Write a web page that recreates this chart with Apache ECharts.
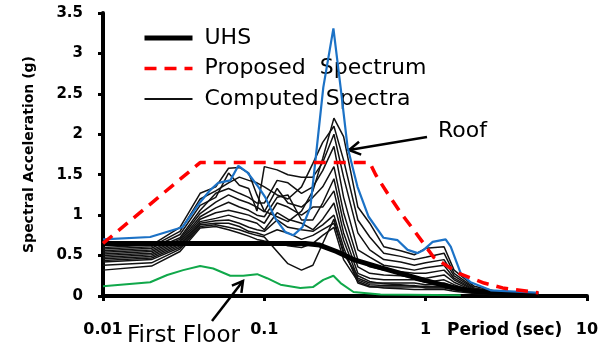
<!DOCTYPE html>
<html><head><meta charset="utf-8">
<script src="https://cdn.jsdelivr.net/npm/echarts@6/dist/echarts.min.js"></script>
<style>html,body{margin:0;padding:0;background:#fff}#c{width:612px;height:347px}</style>
</head><body><div id="c"></div>
<script>
// ---- tick labels ----
const xTickLabels = ['0.01', '0.1', '1', '10'];
const yTickLabels = ['0', '0.5', '1', '1.5', '2', '2.5', '3', '3.5'];

// ---- UHS ----
const uhsPeriod = [0.01, 0.18, 0.22, 0.28, 0.357, 0.525, 0.70, 1.0, 1.5, 2.0, 3.0, 5.0];
const uhsSa     = [0.65, 0.65, 0.63, 0.55, 0.45, 0.35, 0.28, 0.19, 0.10, 0.06, 0.03, 0.02];

// ---- Proposed spectrum ----
const proposedPeriod = [0.01, 0.04, 0.45, 0.49, 0.58, 0.70, 0.87, 1.12, 1.39, 1.65, 2.3, 3.0, 5.0];
const proposedSa     = [0.65, 1.65, 1.65, 1.50, 1.27, 1.03, 0.78, 0.48, 0.36, 0.27, 0.16, 0.10, 0.04];

// ---- Roof spectrum (blue) ----
const roofPeriod = [0.01, 0.0196, 0.031, 0.040, 0.0462, 0.0518, 0.0615, 0.069, 0.0784, 0.0918, 0.1014, 0.117, 0.135, 0.151, 0.172, 0.193, 0.232, 0.268, 0.297, 0.328, 0.378, 0.443, 0.548, 0.67, 0.773, 0.892, 0.972, 1.105, 1.33, 1.43, 1.65, 1.90, 2.53, 5.0];
const roofSa     = [0.70, 0.73, 0.85, 1.16, 1.31, 1.40, 1.43, 1.61, 1.53, 1.35, 1.22, 0.96, 0.79, 0.75, 0.85, 1.10, 2.58, 3.31, 2.58, 1.84, 1.35, 0.98, 0.72, 0.69, 0.57, 0.53, 0.57, 0.67, 0.70, 0.61, 0.28, 0.17, 0.07, 0.04];

// ---- First floor spectrum (green) ----
const floorPeriod = [0.01, 0.0196, 0.025, 0.0314, 0.040, 0.0482, 0.0615, 0.074, 0.0903, 0.104, 0.126, 0.167, 0.20, 0.232, 0.268, 0.297, 0.357, 0.525, 1.65];
const floorSa     = [0.12, 0.17, 0.26, 0.32, 0.37, 0.34, 0.25, 0.25, 0.27, 0.22, 0.14, 0.10, 0.11, 0.20, 0.25, 0.16, 0.05, 0.02, 0.01];

// ---- Computed spectra (thin black) ----
const computedPeriod = [0.01, 0.02, 0.03, 0.04, 0.05, 0.06, 0.07, 0.08, 0.09, 0.10, 0.12, 0.14, 0.17, 0.20, 0.23, 0.27, 0.31, 0.38, 0.45, 0.55, 0.70, 0.85, 1.0, 1.3, 1.5, 2.0, 3.0, 5.0];
const computed1  = [0.60,0.63,0.85,1.27,1.35,1.58,1.59,1.52,1.25,1.05,0.98,0.92,1.05,1.30,1.70,2.20,1.97,1.10,0.90,0.61,0.56,0.51,0.59,0.61,0.32,0.12,0.04,0.02];
const computed2  = [0.58,0.61,0.80,1.20,1.30,1.40,1.47,1.43,1.40,1.35,1.25,1.20,1.35,1.64,1.90,2.10,1.68,0.94,0.73,0.53,0.49,0.45,0.48,0.53,0.28,0.10,0.04,0.02];
const computed3  = [0.56,0.59,0.76,1.12,1.22,1.52,1.37,1.33,1.05,1.60,1.56,1.50,1.47,1.47,1.65,2.00,1.47,0.78,0.57,0.45,0.42,0.38,0.41,0.45,0.25,0.09,0.03,0.01];
const computed4  = [0.54,0.57,0.72,1.06,1.27,1.33,1.27,1.22,1.15,1.15,1.43,1.40,1.27,1.35,1.55,1.85,1.22,0.57,0.48,0.38,0.35,0.32,0.35,0.38,0.22,0.08,0.03,0.01];
const computed5  = [0.52,0.55,0.70,1.02,1.16,1.25,1.19,1.15,1.10,1.04,1.33,1.15,1.10,1.22,1.35,1.60,1.03,0.45,0.36,0.32,0.30,0.28,0.28,0.32,0.20,0.07,0.03,0.01];
const computed6  = [0.50,0.53,0.68,0.98,1.09,1.16,1.10,1.06,1.00,0.98,1.22,1.25,0.94,0.94,1.15,1.45,0.90,0.36,0.28,0.26,0.25,0.23,0.22,0.26,0.17,0.06,0.02,0.01];
const computed7  = [0.48,0.51,0.66,0.95,1.03,1.06,1.03,1.00,0.95,0.90,1.15,1.10,1.00,1.10,1.10,1.30,0.78,0.28,0.22,0.20,0.20,0.20,0.17,0.20,0.14,0.05,0.02,0.01];
const computed8  = [0.46,0.49,0.64,0.92,0.96,1.00,0.96,0.93,0.90,0.82,1.03,0.95,0.90,0.82,0.95,1.15,0.69,0.22,0.16,0.16,0.16,0.16,0.14,0.16,0.12,0.05,0.02,0.01];
const computed9  = [0.44,0.47,0.62,0.90,0.93,0.94,0.90,0.85,0.82,0.80,0.94,0.85,0.82,0.80,0.88,1.00,0.60,0.16,0.11,0.11,0.11,0.11,0.11,0.11,0.09,0.04,0.02,0.01];
const computed10 = [0.42,0.45,0.60,0.88,0.90,0.90,0.86,0.80,0.78,0.75,0.82,0.78,0.70,0.75,0.82,0.90,0.55,0.20,0.14,0.13,0.13,0.13,0.10,0.10,0.08,0.04,0.02,0.01];
const computed11 = [0.38,0.41,0.58,0.86,0.88,0.85,0.82,0.78,0.75,0.73,0.55,0.40,0.32,0.38,0.65,0.95,0.52,0.25,0.18,0.15,0.14,0.12,0.12,0.12,0.09,0.04,0.02,0.01];
const computed12 = [0.32,0.37,0.55,0.84,0.86,0.82,0.78,0.74,0.70,0.68,0.66,0.62,0.60,0.65,0.75,0.85,0.45,0.18,0.12,0.10,0.09,0.08,0.08,0.08,0.06,0.03,0.01,0.01];

const computedList = [computed1, computed2, computed3, computed4, computed5, computed6,
  computed7, computed8, computed9, computed10, computed11, computed12];

const zip = (xs, ys) => xs.map((x, i) => [x, ys[i]]);
const FONT = 'DejaVu Sans';

const series = [];
computedList.forEach(arr => {
  series.push({
    name: 'Computed Spectra', type: 'line', symbol: 'none', smooth: false,
    data: zip(computedPeriod, arr),
    lineStyle: { color: '#111', width: 1.5 }, itemStyle: { color: '#111' },
    z: 2, silent: true
  });
});
series.push({
  name: 'UHS', type: 'line', symbol: 'none', data: zip(uhsPeriod, uhsSa),
  lineStyle: { color: '#000', width: 5 }, itemStyle: { color: '#000' }, z: 3
});
series.push({
  name: 'First Floor', type: 'line', symbol: 'none', data: zip(floorPeriod, floorSa),
  lineStyle: { color: '#10A84A', width: 2 }, itemStyle: { color: '#10A84A' }, z: 4
});
series.push({
  name: 'Roof', type: 'line', symbol: 'none', data: zip(roofPeriod, roofSa),
  lineStyle: { color: '#1C72C6', width: 2.2 }, itemStyle: { color: '#1C72C6' }, z: 5
});
series.push({
  name: 'Proposed  Spectrum', type: 'line', symbol: 'none', data: zip(proposedPeriod, proposedSa),
  lineStyle: { color: '#FF0000', width: 3.5, type: [12, 8] }, itemStyle: { color: '#FF0000' }, z: 6
});

function arrow(tail, tip, len, ang) {
  const dx = tip[0] - tail[0], dy = tip[1] - tail[1];
  const L = Math.hypot(dx, dy), ux = dx / L, uy = dy / L;
  const rot = (a) => [ux * Math.cos(a) - uy * Math.sin(a), ux * Math.sin(a) + uy * Math.cos(a)];
  const r1 = rot(ang), r2 = rot(-ang);
  return [
    { type: 'line', shape: { x1: tail[0], y1: tail[1], x2: tip[0], y2: tip[1] }, style: { stroke: '#000', lineWidth: 2.5 } },
    { type: 'polyline', shape: { points: [[tip[0] - len * r1[0], tip[1] - len * r1[1]], tip, [tip[0] - len * r2[0], tip[1] - len * r2[1]]] },
      style: { stroke: '#000', lineWidth: 2.5, fill: null } }
  ];
}

const option = {
  animation: false,
  backgroundColor: '#fff',
  grid: { left: 103, right: 25, top: 13, bottom: 51, containLabel: false },
  legend: {
    orient: 'vertical', left: 137, top: 22, itemWidth: 48, itemHeight: 14, itemGap: 8.5,
    data: [
      { name: 'UHS', lineStyle: { width: 5 } },
      { name: 'Proposed  Spectrum', lineStyle: { width: 3.5 } },
      { name: 'Computed Spectra', lineStyle: { width: 2 } }
    ],
    itemStyle: { color: 'rgba(0,0,0,0)', borderWidth: 0, opacity: 0 },
    textStyle: { fontFamily: FONT, fontSize: 22, color: '#000', lineHeight: 22, padding: [0, 0, 0, 7] },
    selectedMode: false
  },
  xAxis: {
    type: 'log', logBase: 10, min: 0.01, max: 10,
    axisLine: { onZero: false, lineStyle: { color: '#000', width: 4 } },
    axisTick: { show: true, inside: false, length: 5, lineStyle: { color: '#000', width: 3 } },
    minorTick: { show: false }, splitLine: { show: false },
    axisLabel: {
      margin: 26, fontFamily: FONT, fontSize: 16, fontWeight: 'bold', color: '#000',
      formatter: (v) => {
        const k = xTickLabels.find(s => Math.abs(Math.log10(Number(s)) - Math.log10(v)) < 1e-6);
        return k || '';
      }
    }
  },
  yAxis: {
    type: 'value', min: 0, max: 3.5, interval: 0.5,
    name: 'Spectral Acceleration (g)', nameLocation: 'middle', nameGap: 67, nameRotate: 90,
    nameTextStyle: { fontFamily: FONT, fontSize: 14, fontWeight: 'bold', color: '#000' },
    axisLine: { show: true, lineStyle: { color: '#000', width: 4 } },
    axisTick: { show: true, inside: false, length: 5, lineStyle: { color: '#000', width: 3 } },
    splitLine: { show: false },
    axisLabel: {
      margin: 20, fontFamily: FONT, fontSize: 15, fontWeight: 'bold', color: '#000',
      formatter: (v) => yTickLabels[Math.round(v / 0.5)]
    }
  },
  graphic: [
    { type: 'text', left: 447, top: 322, style: { text: 'Period (sec)', fontFamily: FONT, fontSize: 17, fontWeight: 'bold', fill: '#000' } },
    { type: 'text', left: 438, top: 120, style: { text: 'Roof', fontFamily: FONT, fontSize: 22, fill: '#000' } },
    { type: 'text', left: 127, top: 325, style: { text: 'First Floor', fontFamily: FONT, fontSize: 23, fill: '#000' } },
    ...arrow([427, 137], [349, 150], 13, Math.PI / 6),
    ...arrow([212, 321], [243, 281], 12, Math.PI / 6)
  ],
  series
};

const chart = echarts.init(document.getElementById('c'), null, { renderer: 'canvas' });
chart.setOption(option);
</script>
</body></html>
